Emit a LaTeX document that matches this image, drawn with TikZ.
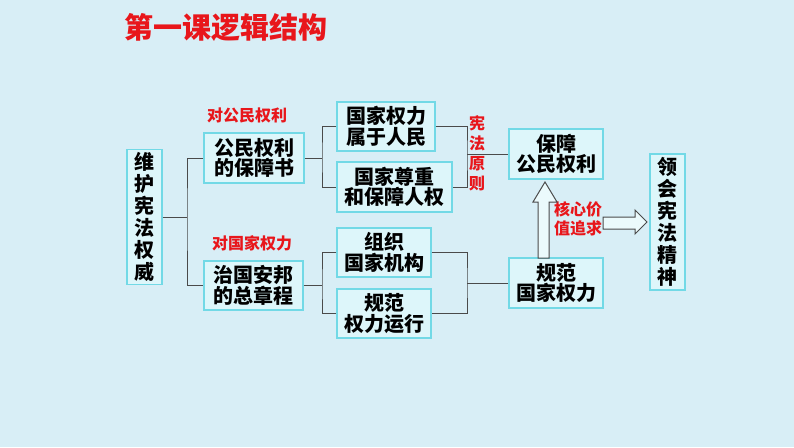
\documentclass[tikz,border=0pt]{standalone}
\usepackage{fontspec}
\setmainfont{Noto Sans CJK SC}[BoldFont={Noto Sans CJK SC Black}]
\usepackage{tikz}
\usetikzlibrary{positioning}
\definecolor{bgblue}{HTML}{D8EEF6}
\definecolor{boxfill}{HTML}{DDF6FA}
\definecolor{boxline}{HTML}{72D9E6}
\definecolor{linegray}{HTML}{4A4A4A}
\definecolor{titlered}{HTML}{E8161B}

\begin{document}
\begin{tikzpicture}[x=1pt,y=-1pt,semithick,
    box/.style={draw=boxline,fill=boxfill,line width=1.2pt,align=center,
        font=\bfseries\fontsize{20}{20.5}\selectfont,inner sep=0pt},
    vbox/.style={box,font=\bfseries\fontsize{20}{22}\selectfont},
    redlabel/.style={text=titlered,font=\bfseries\fontsize{16}{19}\selectfont,align=center},
    conn/.style={draw=linegray,line width=1pt},
    hollow/.style={draw=linegray,fill=boxfill!60!white,line width=1pt,line join=miter}]
    \fill[bgblue] (0,0) rectangle (794,447);
    \useasboundingbox (0,0) rectangle (794,447);

    % title
    \node[text=titlered,font=\bfseries\fontsize{29}{29}\selectfont] (title) at (226,27) {第一课逻辑结构};

    % boxes
    \node[vbox,minimum width=35pt,minimum height=135pt] (wh) at (144.5,217) {维\\护\\宪\\法\\权\\威};
    \node[box,minimum width=100pt,minimum height=50pt] (bzs) at (254,158) {公民权利\\的保障书};
    \node[box,minimum width=99pt,minimum height=49pt] (zzc) at (253.5,285.5) {治国安邦\\的总章程};
    \node[box,minimum width=98pt,minimum height=49pt] (gjql) at (386,126.5) {国家权力\\属于人民};
    \node[box,minimum width=115pt,minimum height=50pt] (zzrq) at (394.5,187) {国家尊重\\和保障人权};
    \node[box,minimum width=94pt,minimum height=49pt] (zz) at (384,252.5) {组织\\国家机构};
    \node[box,minimum width=94pt,minimum height=49pt] (gfyx) at (384,313.5) {规范\\权力运行};
    \node[box,minimum width=94pt,minimum height=50pt] (bz) at (556,154) {保障\\公民权利};
    \node[box,minimum width=94pt,minimum height=50pt] (gf) at (556,283) {规范\\国家权力};
    \node[vbox,minimum width=35pt,minimum height=136pt] (lh) at (667.5,222) {领\\会\\宪\\法\\精\\神};

    % red labels
    \node[redlabel] (dgm) at (247,115) {对公民权利};
    \node[redlabel] (dgj) at (252,243) {对国家权力};
    \node[redlabel,font=\bfseries\fontsize{16}{20}\selectfont] (xfyz) at (477,153) {宪\\法\\原\\则};
    \node[redlabel] (hx) at (578,219) {核心价\\值追求};

    % connectors
    \coordinate (j1) at (187,217);
    \coordinate (j2) at (322,158);
    \coordinate (j3) at (467,154);
    \coordinate (j4) at (322,285.5);
    \coordinate (j5) at (467,283);
    \draw[conn] (wh.east) -- (j1);
    \draw[conn] (bzs.west) -| (j1) |- (zzc.west);
    \draw[conn] (bzs.east) -- (j2);
    \draw[conn] (gjql.west) -| (j2) |- (zzrq.west);
    \draw[conn] (gjql.east) -| (j3) |- (zzrq.east);
    \draw[conn] (j3) -- (bz.west);
    \draw[conn] (zzc.east) -- (j4);
    \draw[conn] (zz.west) -| (j4) |- (gfyx.west);
    \draw[conn] (zz.east) -| (j5) |- (gfyx.east);
    \draw[conn] (j5) -- (gf.west);

    % hollow arrows
    \draw[hollow] (538,258) -- (538,202) -- (533,202) -- (545,182) -- (557,202)
        -- (549,202) -- (549,258) -- cycle;
    \draw[hollow] (603,217) -- (635,217) -- (635,210) -- (647,222) -- (635,234)
        -- (635,229) -- (603,229) -- cycle;
\end{tikzpicture}
\end{document}
